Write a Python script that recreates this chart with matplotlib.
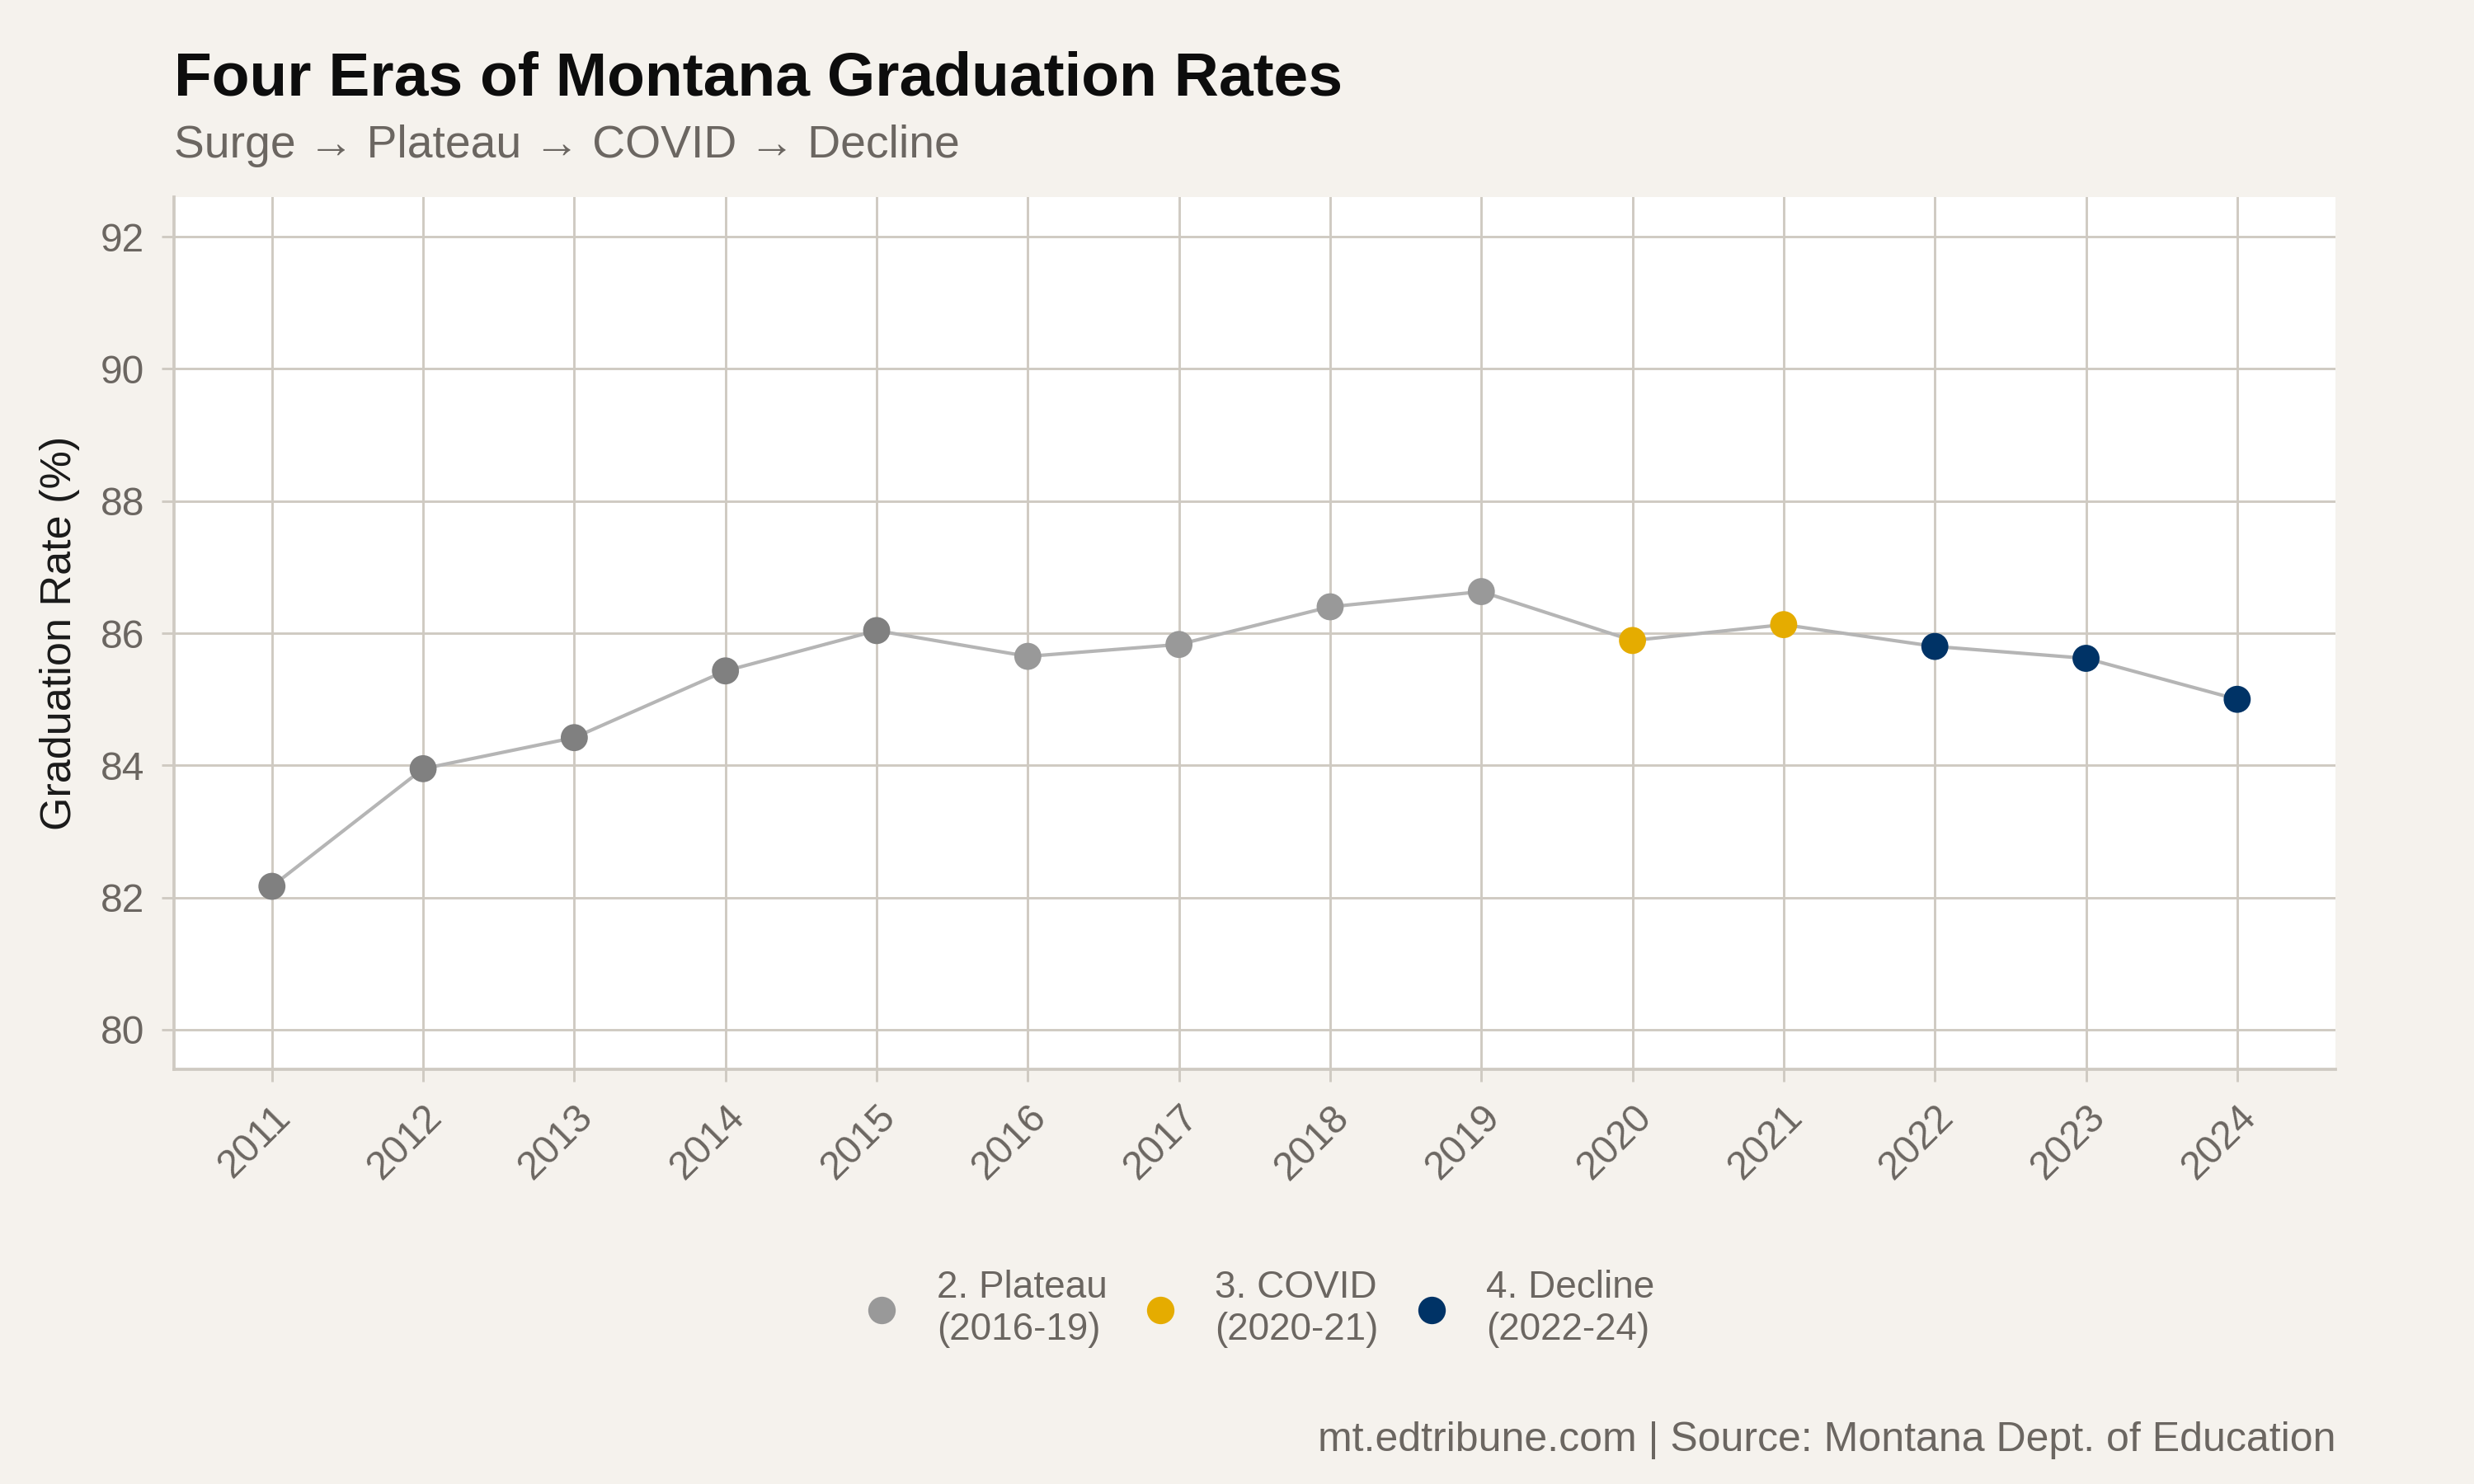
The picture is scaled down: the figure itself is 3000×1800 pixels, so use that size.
import numpy as np
import matplotlib
matplotlib.use("Agg")
import matplotlib.pyplot as plt
from matplotlib.lines import Line2D

plt.rcParams["font.family"] = ["Liberation Sans", "DejaVu Sans"]

years = [2011, 2012, 2013, 2014, 2015, 2016, 2017, 2018, 2019, 2020, 2021, 2022, 2023, 2024]
rates = [82.17, 83.95, 84.42, 85.43, 86.04, 85.65, 85.83, 86.40, 86.63, 85.89, 86.13, 85.80, 85.62, 85.00]
eras = ["1. Surge"] * 5 + ["2. Plateau"] * 4 + ["3. COVID"] * 2 + ["4. Decline"] * 3
era_colors = {"1. Surge": "#808080", "2. Plateau": "#999999", "3. COVID": "#E5AC00", "4. Decline": "#003366"}
legend_labels = {"2. Plateau": "2. Plateau\n(2016-19)", "3. COVID": "3. COVID\n(2020-21)",
                 "4. Decline": "4. Decline\n(2022-24)"}

BG = "#F5F2ED"; GRID = "#CFCAC2"; TXT = "#6B6661"

fig = plt.figure(figsize=(10, 6), dpi=300, facecolor=BG)
ax = fig.add_axes([0.0702, 0.2794, 0.8738, 0.5878])
ax.set_facecolor("white")

ax.plot(years, rates, color="#B5B5B5", lw=1.0, zorder=2)
cols = [era_colors[e] for e in eras]
ax.scatter(years, rates, s=62, c=cols, zorder=3, linewidths=0)

ax.set_xlim(2010.35, 2024.65)
ax.set_ylim(79.4, 92.6)
ax.set_yticks(np.arange(80, 93, 2))
ax.set_xticks(years)
ax.set_xticklabels([str(y) for y in years], rotation=45, ha="right", rotation_mode="anchor")
ax.grid(True, color=GRID, lw=0.7, zorder=0)
ax.set_axisbelow(True)
for s in ["top", "right"]:
    ax.spines[s].set_visible(False)
for s in ["left", "bottom"]:
    ax.spines[s].set_color(GRID); ax.spines[s].set_linewidth(0.9)
ax.tick_params(colors=GRID, labelcolor=TXT, labelsize=11.5, length=3.5, width=0.7, pad=5)
ax.set_ylabel("Graduation Rate (%)", fontsize=12.5, color="#1a1a1a", labelpad=6)

fig.text(0.0702, 0.936, "Four Eras of Montana Graduation Rates", fontsize=18, fontweight="bold",
         color="#0d0d0d", ha="left", va="baseline")
fig.text(0.0702, 0.894, "Surge \u2192 Plateau \u2192 COVID \u2192 Decline", fontsize=13.25,
         color=TXT, ha="left", va="baseline")
fig.text(0.944, 0.022, "mt.edtribune.com | Source: Montana Dept. of Education", fontsize=12,
         color=TXT, ha="right", va="baseline")

handles = [Line2D([], [], ls="", marker="o", ms=8, mec="none", color=era_colors[k]) for k in legend_labels]
leg = fig.legend(handles, list(legend_labels.values()), loc="center", bbox_to_anchor=(0.508, 0.118),
                 ncol=3, frameon=False, fontsize=11, handletextpad=0.85, columnspacing=0.8, handlelength=1.2)
for t in leg.get_texts():
    t.set_color(TXT)

fig.savefig("out.png", dpi=300, facecolor=BG)
